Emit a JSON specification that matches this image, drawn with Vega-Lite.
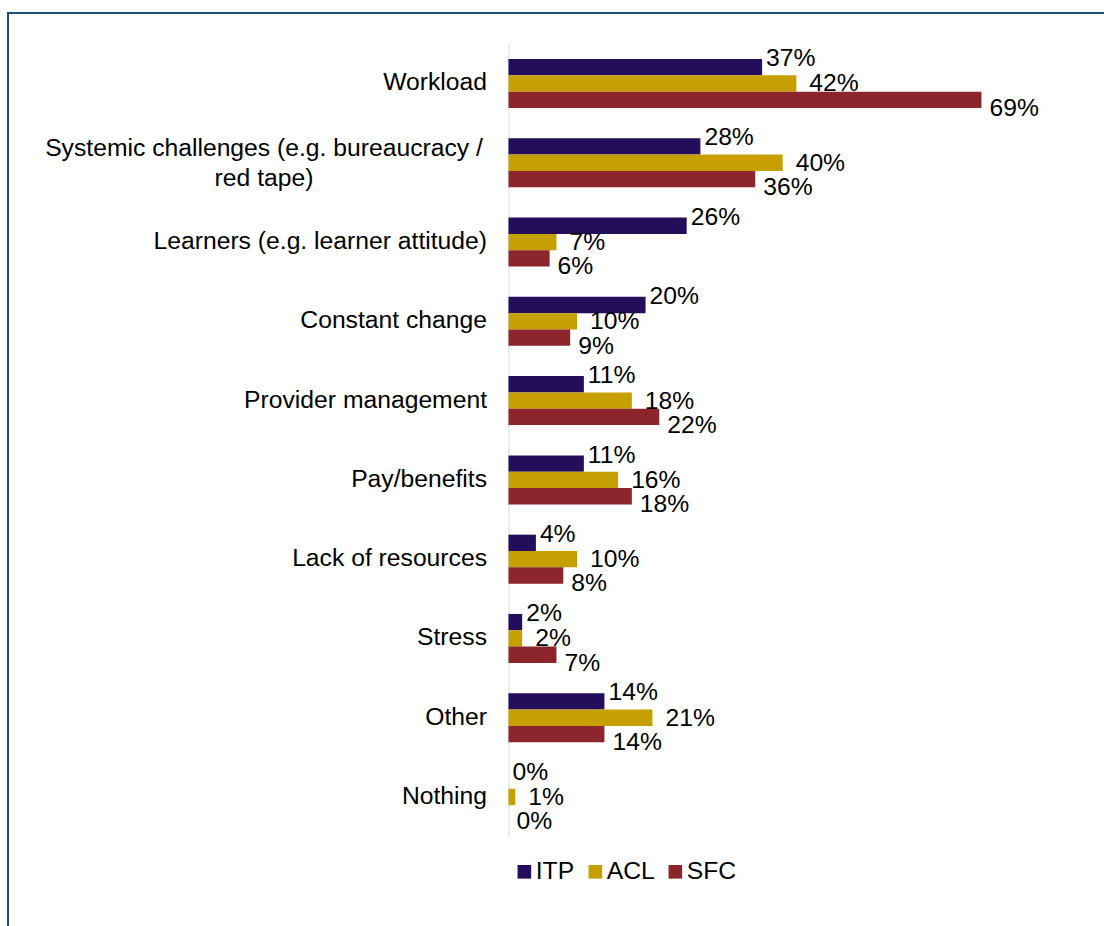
{
  "$schema": "https://vega.github.io/schema/vega-lite/v6.json",
  "autosize": "none",
  "width": 1098,
  "height": 915,
  "padding": {"left": 8, "top": 13, "right": -2, "bottom": -2},
  "background": "white",
  "config": {
    "view": {"stroke": "#1F4E79", "strokeWidth": 2},
    "font": "Liberation Sans",
    "text": {"font": "Liberation Sans"}
  },
  "data": {
    "values": [
      {"cat": "Workload", "series": "ITP", "value": 0.37},
      {"cat": "Workload", "series": "ACL", "value": 0.42},
      {"cat": "Workload", "series": "SFC", "value": 0.69},
      {"cat": "Systemic challenges (e.g. bureaucracy / red tape)", "series": "ITP", "value": 0.28},
      {"cat": "Systemic challenges (e.g. bureaucracy / red tape)", "series": "ACL", "value": 0.40},
      {"cat": "Systemic challenges (e.g. bureaucracy / red tape)", "series": "SFC", "value": 0.36},
      {"cat": "Learners (e.g. learner attitude)", "series": "ITP", "value": 0.26},
      {"cat": "Learners (e.g. learner attitude)", "series": "ACL", "value": 0.07},
      {"cat": "Learners (e.g. learner attitude)", "series": "SFC", "value": 0.06},
      {"cat": "Constant change", "series": "ITP", "value": 0.20},
      {"cat": "Constant change", "series": "ACL", "value": 0.10},
      {"cat": "Constant change", "series": "SFC", "value": 0.09},
      {"cat": "Provider management", "series": "ITP", "value": 0.11},
      {"cat": "Provider management", "series": "ACL", "value": 0.18},
      {"cat": "Provider management", "series": "SFC", "value": 0.22},
      {"cat": "Pay/benefits", "series": "ITP", "value": 0.11},
      {"cat": "Pay/benefits", "series": "ACL", "value": 0.16},
      {"cat": "Pay/benefits", "series": "SFC", "value": 0.18},
      {"cat": "Lack of resources", "series": "ITP", "value": 0.04},
      {"cat": "Lack of resources", "series": "ACL", "value": 0.10},
      {"cat": "Lack of resources", "series": "SFC", "value": 0.08},
      {"cat": "Stress", "series": "ITP", "value": 0.02},
      {"cat": "Stress", "series": "ACL", "value": 0.02},
      {"cat": "Stress", "series": "SFC", "value": 0.07},
      {"cat": "Other", "series": "ITP", "value": 0.14},
      {"cat": "Other", "series": "ACL", "value": 0.21},
      {"cat": "Other", "series": "SFC", "value": 0.14},
      {"cat": "Nothing", "series": "ITP", "value": 0.0},
      {"cat": "Nothing", "series": "ACL", "value": 0.01},
      {"cat": "Nothing", "series": "SFC", "value": 0.0}
    ]
  },
  "encoding": {
    "y": {
      "field": "cat",
      "type": "nominal",
      "sort": ["Workload", "Systemic challenges (e.g. bureaucracy / red tape)", "Learners (e.g. learner attitude)", "Constant change", "Provider management", "Pay/benefits", "Lack of resources", "Stress", "Other", "Nothing"],
      "scale": {"range": [30.86, 823.64], "paddingInner": 0.382, "paddingOuter": 0.191},
      "axis": {
        "title": null,
        "orient": "left",
        "offset": -500.5,
        "domainColor": "#D9D9D9",
        "domainWidth": 1,
        "ticks": false,
        "grid": false,
        "labelFont": "Liberation Sans",
        "labelFontSize": 24.7,
        "labelColor": "#000000",
        "labelLimit": 0,
        "labelLineHeight": 30,
        "labelExpr": "datum.value == 'Systemic challenges (e.g. bureaucracy / red tape)' ? ['Systemic challenges (e.g. bureaucracy /', 'red tape)'] : datum.value",
        "labelAlign": {"condition": {"test": "datum.value == 'Systemic challenges (e.g. bureaucracy / red tape)'", "value": "center"}, "value": "right"},
        "labelPadding": {"condition": {"test": "datum.value == 'Systemic challenges (e.g. bureaucracy / red tape)'", "value": 245}, "value": 22},
        "labelOffset": {"condition": {"test": "datum.value == 'Systemic challenges (e.g. bureaucracy / red tape)'", "value": -14}, "value": 0}
      }
    },
    "yOffset": {"field": "series", "type": "nominal", "sort": ["ITP", "ACL", "SFC"]},
    "x": {
      "field": "value",
      "type": "quantitative",
      "scale": {"domain": [-0.7301, 0.8717], "nice": false, "zero": false},
      "axis": null
    }
  },
  "layer": [
    {
      "mark": {"type": "bar"},
      "encoding": {
        "color": {
          "field": "series",
          "type": "nominal",
          "sort": ["ITP", "ACL", "SFC"],
          "scale": {"domain": ["ITP", "ACL", "SFC"], "range": ["#240D5A", "#C5A000", "#8C262C"]},
          "legend": {
            "title": null,
            "orient": "none",
            "direction": "horizontal",
            "legendX": 504,
            "legendY": 846,
            "symbolType": "square",
            "symbolSize": 185,
            "symbolStrokeWidth": 0,
            "symbolOpacity": 1,
            "labelFont": "Liberation Sans",
            "labelFontSize": 24.7,
            "labelColor": "#000000",
            "labelOffset": -1,
            "columnPadding": 8
          }
        }
      }
    },
    {
      "transform": [{"filter": "datum.series == 'ITP'"}],
      "mark": {"type": "text", "align": "left", "baseline": "middle", "dx": 4, "dy": -8, "fontSize": 24.7, "font": "Liberation Sans", "color": "#000000"},
      "encoding": {"text": {"field": "value", "type": "quantitative", "format": ".0%"}}
    },
    {
      "transform": [{"filter": "datum.series == 'ACL'"}],
      "mark": {"type": "text", "align": "left", "baseline": "middle", "dx": 13, "dy": 1, "fontSize": 24.7, "font": "Liberation Sans", "color": "#000000"},
      "encoding": {"text": {"field": "value", "type": "quantitative", "format": ".0%"}}
    },
    {
      "transform": [{"filter": "datum.series == 'SFC'"}],
      "mark": {"type": "text", "align": "left", "baseline": "middle", "dx": 8, "dy": 9, "fontSize": 24.7, "font": "Liberation Sans", "color": "#000000"},
      "encoding": {"text": {"field": "value", "type": "quantitative", "format": ".0%"}}
    }
  ]
}
